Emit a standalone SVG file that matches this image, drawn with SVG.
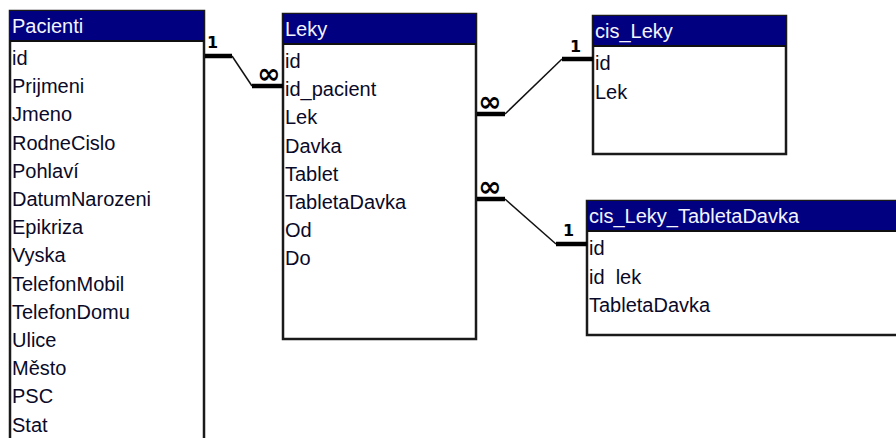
<svg xmlns="http://www.w3.org/2000/svg" width="896" height="438" viewBox="0 0 896 438">
  <style>
    .box { fill: #ffffff; stroke: #1a1a1a; stroke-width: 2.5; }
    .bar { fill: #000080; }
    .sep { stroke: #101010; stroke-width: 2; }
    .title { font-family: "Liberation Sans", Arial, sans-serif; font-size: 20px; fill: #f4f4ff; }
    .field { font-family: "Liberation Sans", Arial, sans-serif; font-size: 20px; fill: #0a0a28; }
    .thick { stroke: #000; stroke-width: 4.5; fill: none; }
    .thin { stroke: #111; stroke-width: 1.5; fill: none; }
    .one { font-family: "DejaVu Sans", sans-serif; font-size: 16px; font-weight: bold; fill: #000; }
    .many { font-family: "DejaVu Sans", sans-serif; font-size: 28px; font-weight: bold; fill: #000; }
  </style>

  <rect width="896" height="438" fill="#ffffff"/>

  <!-- Pacienti table -->
  <g id="pacienti">
    <rect class="box" x="10" y="11" width="194" height="445"/>
    <rect class="bar" x="10" y="11" width="194" height="30"/>
    <line class="sep" x1="10" y1="41" x2="204" y2="41"/>
    <text class="title" x="12" y="33">Pacienti</text>
    <text class="field" x="12" y="65">id</text>
    <text class="field" x="12" y="93.2">Prijmeni</text>
    <text class="field" x="12" y="121.4">Jmeno</text>
    <text class="field" x="12" y="149.6">RodneCislo</text>
    <text class="field" x="12" y="177.8">Pohlaví</text>
    <text class="field" x="12" y="206">DatumNarozeni</text>
    <text class="field" x="12" y="234.2">Epikriza</text>
    <text class="field" x="12" y="262.4">Vyska</text>
    <text class="field" x="12" y="290.6">TelefonMobil</text>
    <text class="field" x="12" y="318.8">TelefonDomu</text>
    <text class="field" x="12" y="347">Ulice</text>
    <text class="field" x="12" y="375.2">Město</text>
    <text class="field" x="12" y="403.4">PSC</text>
    <text class="field" x="12" y="431.6">Stat</text>
  </g>

  <!-- Leky table -->
  <g id="leky">
    <rect class="box" x="283" y="14" width="193" height="325"/>
    <rect class="bar" x="283" y="14" width="193" height="30"/>
    <line class="sep" x1="283" y1="44" x2="476" y2="44"/>
    <text class="title" x="285" y="36">Leky</text>
    <text class="field" x="285" y="68">id</text>
    <text class="field" x="285" y="96.2">id_pacient</text>
    <text class="field" x="285" y="124.4">Lek</text>
    <text class="field" x="285" y="152.6">Davka</text>
    <text class="field" x="285" y="180.8">Tablet</text>
    <text class="field" x="285" y="209">TabletaDavka</text>
    <text class="field" x="285" y="237.2">Od</text>
    <text class="field" x="285" y="265.4">Do</text>
  </g>

  <!-- cis_Leky table -->
  <g id="cis-leky">
    <rect class="box" x="593" y="16" width="193" height="138"/>
    <rect class="bar" x="593" y="16" width="193" height="30"/>
    <line class="sep" x1="593" y1="46" x2="786" y2="46"/>
    <text class="title" x="595" y="38">cis_Leky</text>
    <text class="field" x="595" y="70">id</text>
    <text class="field" x="595" y="98.5">Lek</text>
  </g>

  <!-- cis_Leky_TabletaDavka table -->
  <g id="cis-leky-tabletadavka">
    <rect class="box" x="587" y="201" width="330" height="134"/>
    <rect class="bar" x="587" y="201" width="330" height="30"/>
    <line class="sep" x1="587" y1="231" x2="917" y2="231"/>
    <text class="title" x="589" y="223">cis_Leky_TabletaDavka</text>
    <text class="field" x="589" y="255">id</text>
    <text class="field" x="589" y="283.5" xml:space="preserve">id  lek</text>
    <text class="field" x="589" y="312">TabletaDavka</text>
  </g>

  <!-- relationships -->
  <g id="connectors">
    <!-- Pacienti.id 1 : N Leky.id_pacient -->
    <path class="thick" d="M205 56 H232"/>
    <path class="thin" d="M232 56 L252 86"/>
    <path class="thick" d="M252 86 H283"/>
    <text class="one" x="207" y="48">1</text>
    <text class="many" x="257" y="83">∞</text>

    <!-- Leky.Lek N : 1 cis_Leky.id -->
    <path class="thick" d="M477 114 H505"/>
    <path class="thin" d="M505 114 L562 59"/>
    <path class="thick" d="M562 59 H593"/>
    <text class="one" x="570" y="52">1</text>
    <text class="many" x="478" y="111">∞</text>

    <!-- Leky.TabletaDavka N : 1 cis_Leky_TabletaDavka.id -->
    <path class="thick" d="M477 199 H505"/>
    <path class="thin" d="M505 199 L556 244"/>
    <path class="thick" d="M556 244 H587"/>
    <text class="one" x="563" y="236">1</text>
    <text class="many" x="478" y="196">∞</text>
  </g>
</svg>
